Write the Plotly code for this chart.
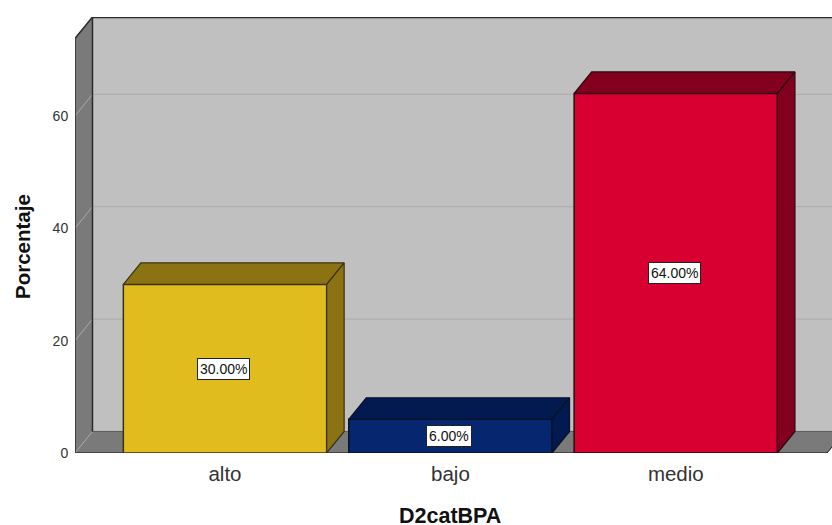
import plotly.graph_objects as go

# Chart data
categories = ["alto", "bajo", "medio"]
percentages = [30.0, 6.0, 64.0]
y_ticks = [0, 20, 40, 60]
front_colors = ["#E1BC1E", "#072670", "#D70030"]
shade_colors = ["#8B7212", "#021A4F", "#82001E"]
edge_colors = ["#3A3210", "#0A1226", "#2A0610"]

FONT = "Liberation Sans"
W, H = 832, 525
LEFT, TOP, BOTTOM = 75, 17, 453

# Axis extents and the oblique offset of the pseudo-3D box, in data units
X_MIN, X_MAX = -0.6655, 2.693
Y_MIN, Y_MAX = 0, 77.6
DX, DY = 0.0776, 3.83
BAR_HALF = 0.451
FLOOR_RIGHT = 2.671

WALL = "#C0C0C0"
SIDE = "#7A7A7A"
EDGE = "#2B2B2B"
GRID = "#ABABAB"


def poly(xs, ys, fill, line=None, width=1):
    return dict(type="path", layer="below", xref="x", yref="y",
                path="M" + " L".join(f"{x},{y}" for x, y in zip(xs, ys)) + " Z",
                fillcolor=fill, line=dict(color=line or fill, width=width))


def seg(x0, y0, x1, y1, color, width=1):
    return dict(type="line", layer="below", xref="x", yref="y",
                x0=x0, y0=y0, x1=x1, y1=y1, line=dict(color=color, width=width))


shapes = [
    # back wall
    poly([X_MIN + DX, X_MAX + 1, X_MAX + 1, X_MIN + DX],
         [DY, DY, Y_MAX, Y_MAX], WALL),
    # left wall
    poly([X_MIN, X_MIN + DX, X_MIN + DX, X_MIN],
         [0, DY, Y_MAX, Y_MAX - DY], SIDE),
    # floor
    poly([X_MIN, FLOOR_RIGHT, FLOOR_RIGHT + DX, X_MIN + DX],
         [0, 0, DY, DY], SIDE),
]
for t in y_ticks[1:]:
    shapes.append(seg(X_MIN + DX, t + DY, X_MAX, t + DY, GRID, 1))
    shapes.append(seg(X_MIN, t, X_MIN + DX, t + DY, GRID, 1))
shapes += [
    seg(X_MIN, 0, X_MIN + DX, DY, GRID, 1),
    seg(X_MIN + DX, DY, X_MAX, DY, "#5E5E5E", 1),
    seg(FLOOR_RIGHT, 0, FLOOR_RIGHT + DX, DY, EDGE, 1),
    seg(X_MIN + DX, DY, X_MIN + DX, Y_MAX, EDGE, 1.5),
    seg(X_MIN + DX, Y_MAX - 0.08, X_MAX, Y_MAX - 0.08, EDGE, 1.5),
    seg(X_MIN, 0, X_MIN, Y_MAX - DY, EDGE, 1.5),
    seg(X_MIN, Y_MAX - DY, X_MIN + DX, Y_MAX, EDGE, 1.5),
    seg(X_MIN, 0.05, FLOOR_RIGHT, 0.05, "#444444", 1.5),
]

fig = go.Figure()

# Front faces of the bars
fig.add_trace(go.Bar(
    x=list(range(len(categories))), y=percentages, width=2 * BAR_HALF,
    marker=dict(color=front_colors, line=dict(color=edge_colors, width=1.5)),
    hoverinfo="skip", showlegend=False,
))

# Top and right faces of the bars
for i, (v, shade, edge) in enumerate(zip(percentages, shade_colors, edge_colors)):
    x0, x1 = i - BAR_HALF, i + BAR_HALF
    top_x = [x0, x1, x1 + DX, x0 + DX, x0]
    top_y = [v, v, v + DY, v + DY, v]
    side_x = [x1, x1 + DX, x1 + DX, x1, x1]
    side_y = [0, DY, v + DY, v, 0]
    for xs, ys in ((top_x, top_y), (side_x, side_y)):
        fig.add_trace(go.Scatter(
            x=xs, y=ys, mode="lines", fill="toself", fillcolor=shade,
            line=dict(color=edge, width=1.2), hoverinfo="skip", showlegend=False,
        ))

# Value labels in the middle of each bar
annotations = [
    dict(x=i, y=v / 2, xref="x", yref="y", xshift=-1.5, text=f"{v:.2f}%",
         showarrow=False, font=dict(family=FONT, size=14, color="#111111"),
         bgcolor="white", bordercolor="#222222", borderwidth=1, borderpad=2)
    for i, v in enumerate(percentages)
]

# Axis titles sit relative to the front plane of the box
annotations += [
    dict(xref="paper", yref="paper", x=(449.5 - LEFT) / (W - LEFT),
         y=(BOTTOM - 516) / (BOTTOM - TOP), xanchor="center", yanchor="middle",
         text="<b>D2catBPA</b>", showarrow=False,
         font=dict(family=FONT, size=21.5, color="#111111")),
    dict(xref="paper", yref="paper", x=(22 - LEFT) / (W - LEFT),
         y=(BOTTOM - 246) / (BOTTOM - TOP), xanchor="center", yanchor="middle",
         text="<b>Porcentaje</b>", showarrow=False,
         textangle=-90, font=dict(family=FONT, size=20.5, color="#111111")),
]

fig.update_layout(
    width=W, height=H,
    margin=dict(l=LEFT, r=0, t=TOP, b=H - BOTTOM, autoexpand=False),
    paper_bgcolor="white", plot_bgcolor="white",
    shapes=shapes, annotations=annotations, showlegend=False,
    xaxis=dict(
        range=[X_MIN, X_MAX], tickvals=list(range(len(categories))),
        ticktext=categories, showgrid=False, zeroline=False, showline=False,
        ticks="outside", ticklen=2, tickcolor="rgba(0,0,0,0)",
        tickfont=dict(family=FONT, size=20.5, color="#333333"),
    ),
    yaxis=dict(
        range=[Y_MIN, Y_MAX], tickvals=y_ticks, showgrid=False, zeroline=False,
        showline=False, ticks="outside", ticklen=3, tickcolor="rgba(0,0,0,0)",
        tickfont=dict(family=FONT, size=14, color="#333333"),
    ),
)

fig.write_html("out.html")
